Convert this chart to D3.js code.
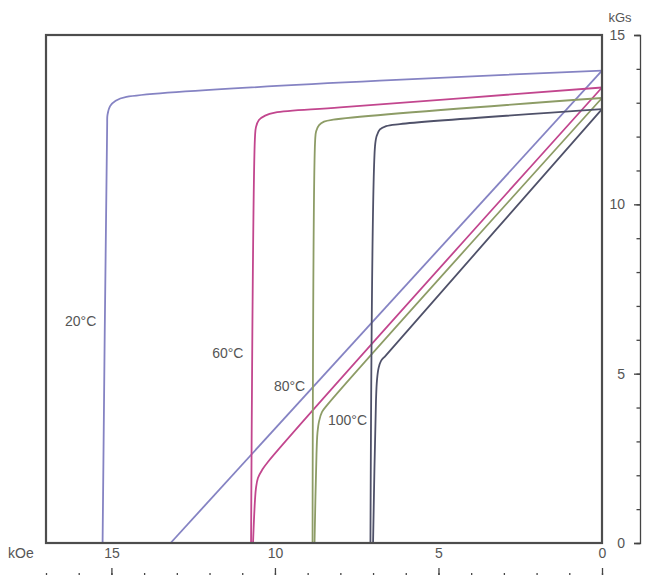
<!DOCTYPE html>
<html>
<head>
<meta charset="utf-8">
<script src="https://cdn.jsdelivr.net/npm/d3@7"></script>
<style>
body{margin:0;background:#fff}
text{font-family:"Liberation Sans",Arial,sans-serif}
</style>
</head>
<body>
<svg id="chart" width="646" height="575"></svg>
<script>
// demagnetization curves, H in kOe (x) and B / 4piM in kGs (y)
const temps = ["20°C", "60°C", "80°C", "100°C"];

const intrinsic20  = [[0,13.95],[14.54,13.17],[14.87,13.06],[15.04,12.90],[15.12,12.64],[15.13,12.34],[15.27,0]];
const intrinsic60  = [[0,13.45],[8.01,12.86],[10.0,12.71],[10.30,12.62],[10.49,12.49],[10.58,12.28],[10.61,11.99],[10.73,0]];
const intrinsic80  = [[0,13.14],[8.22,12.50],[8.50,12.44],[8.65,12.34],[8.74,12.16],[8.77,11.90],[8.85,0]];
const intrinsic100 = [[0,12.81],[6.18,12.37],[6.60,12.31],[6.79,12.21],[6.89,12.02],[6.94,11.72],[7.08,0]];

const normal20  = [[0,13.95],[13.19,0]];
const normal60  = [[0,13.45],[10.21,2.40],[10.39,2.16],[10.52,1.92],[10.58,1.62],[10.61,1.27],[10.67,0]];
const normal80  = [[0,13.14],[8.38,4.10],[8.56,3.87],[8.65,3.60],[8.70,3.25],[8.73,2.60],[8.79,0]];
const normal100 = [[0,12.81],[6.60,5.55],[6.76,5.37],[6.83,5.17],[6.88,4.81],[6.91,4.22],[7.00,0]];

const hTicks = [15, 10, 5, 0];
const hMinor = [17,16,15,14,13,12,11,10,9,8,7,6,5,4,3,2,1,0];
const bTicks = [0, 5, 10, 15];
const bMinor = [0,1,2,3,4,5,6,7,8,9,10,11,12,13,14,15];

// where each temperature label sits, in data units (H, B)
const labelAt = [[16.42,6.41],[11.92,5.46],[10.03,4.49],[8.38,3.48]];

const colors = ["#8583c3", "#c2468e", "#8d9c66", "#4f5169"];
const intrinsic = [intrinsic20, intrinsic60, intrinsic80, intrinsic100];
const normal = [normal20, normal60, normal80, normal100];

const svg = d3.select("#chart");
const box = {left: 46, right: 602, top: 35, bottom: 543};

const x = d3.scaleLinear().domain([17, 0]).range([box.left, box.right]);
const y = d3.scaleLinear().domain([0, 15]).range([box.bottom, box.top]);

const line = d3.line()
  .x(d => x(d[0]))
  .y(d => y(d[1]))
  .curve(d3.curveCatmullRom.alpha(0.5));

const gCurves = svg.append("g");
temps.forEach((t, i) => {
  [intrinsic[i], normal[i]].forEach(pts => {
    gCurves.append("path")
      .attr("d", line(pts))
      .attr("fill", "none")
      .attr("stroke", colors[i])
      .attr("stroke-width", 1.8);
  });
});

svg.append("rect")
  .attr("x", box.left).attr("y", box.top)
  .attr("width", box.right - box.left)
  .attr("height", box.bottom - box.top)
  .attr("fill", "none")
  .attr("stroke", "#4d4d4d")
  .attr("stroke-width", 2.2);

svg.append("g").selectAll("text")
  .data(temps)
  .join("text")
  .attr("x", (d, i) => x(labelAt[i][0]))
  .attr("y", (d, i) => y(labelAt[i][1]))
  .attr("fill", "#555")
  .attr("font-size", 14)
  .text(d => d);

function styleAxis(g){
  g.selectAll("line").attr("stroke", "#444").attr("stroke-width", 1.3);
  g.selectAll("path").attr("stroke", "#444").attr("stroke-width", 1.3);
  g.selectAll("text")
    .attr("fill", "#555")
    .attr("font-size", 14)
    .attr("font-family", "'Liberation Sans', Arial, sans-serif");
}

// H axis: ticks hang from the bottom edge, numbers sit above them
svg.append("g")
  .attr("transform", "translate(0,577)")
  .call(d3.axisTop(x).tickValues(hMinor).tickSize(4).tickSizeOuter(0).tickFormat(""))
  .call(styleAxis);
svg.append("g")
  .attr("transform", "translate(0,577)")
  .call(d3.axisTop(x).tickValues(hTicks).tickSize(9).tickPadding(10).tickFormat(d3.format("d")))
  .call(g => g.select(".domain").remove())
  .call(styleAxis);

// B axis on the right, ticks pointing left
svg.append("g")
  .attr("transform", "translate(640,0)")
  .call(d3.axisLeft(y).tickValues(bMinor).tickSize(3.5).tickSizeOuter(6).tickFormat(""))
  .call(styleAxis);
svg.append("g")
  .attr("transform", "translate(640,0)")
  .call(d3.axisLeft(y).tickValues(bTicks).tickSize(6).tickPadding(9).tickFormat(d3.format("d")))
  .call(g => g.select(".domain").remove())
  .call(styleAxis);

svg.append("text")
  .attr("x", 8).attr("y", 558)
  .attr("fill", "#555").attr("font-size", 14)
  .text("kOe");
svg.append("text")
  .attr("x", 620).attr("y", 22)
  .attr("text-anchor", "middle")
  .attr("fill", "#555").attr("font-size", 13)
  .text("kGs");
</script>
</body>
</html>
